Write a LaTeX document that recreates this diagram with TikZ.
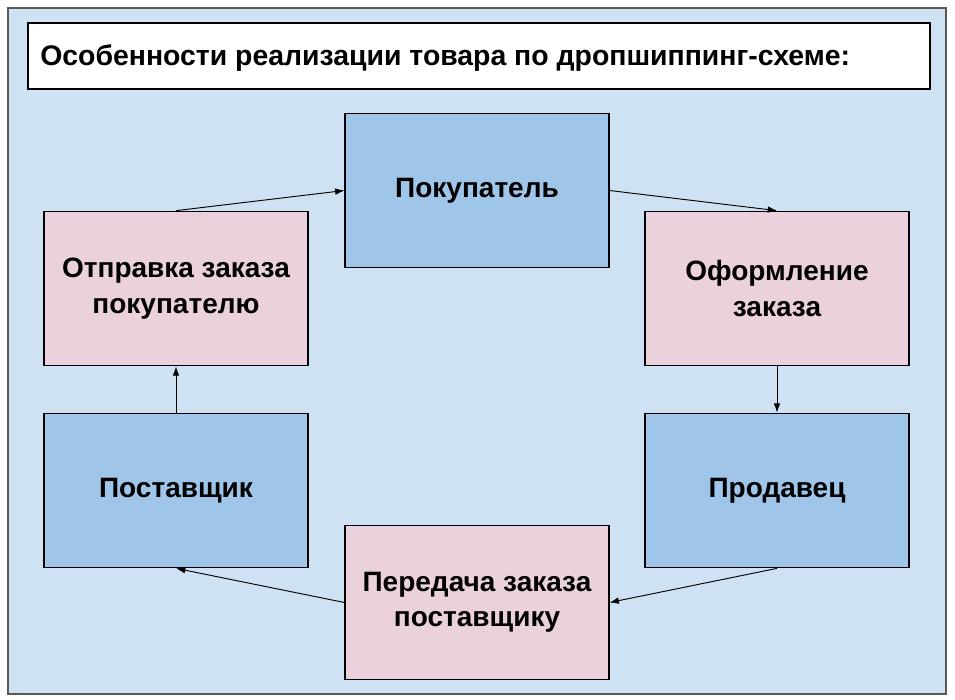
\documentclass[tikz,border=0pt]{standalone}
\usepackage{fontspec}
\setmainfont{Liberation Sans}
\usetikzlibrary{arrows.meta}
\definecolor{bgblue}{HTML}{CFE2F3}
\definecolor{boxblue}{HTML}{9FC5E8}
\definecolor{boxpink}{HTML}{EAD1DC}
\tikzset{
  stage/.style={draw=black, line width=0.8pt, minimum width=198pt, minimum height=116pt,
    align=center, inner sep=0pt, font=\bfseries\fontsize{21}{26.5}\selectfont},
  role/.style={stage, fill=boxblue},
  action/.style={stage, fill=boxpink},
  flow/.style={-{Latex[length=7pt,width=5pt]}, line width=0.7pt}
}
\begin{document}
\begin{tikzpicture}[x=0.75pt, y=-0.75pt]
  \useasboundingbox (0,0) rectangle (955,699);
  \draw[fill=bgblue, draw=black!65, line width=1pt] (8,8) rectangle (946,694);
  \draw[fill=white, draw=black, line width=0.8pt] (28,23) rectangle (930,89);
  \node[anchor=west, inner sep=0pt, font=\bfseries\fontsize{21.3}{25}\selectfont] (title) at (40,58)
    {Особенности реализации товара по дропшиппинг-схеме:};
  \draw
    (477,190.5) node[role] (buyer){Покупатель}
    (777,288.5) node[action] (order){Оформление\\заказа}
    (777,490.5) node[role] (seller){Продавец}
    (477,602.5) node[action] (transfer){Передача заказа\\поставщику}
    (176,490.5) node[role] (supplier){Поставщик}
    (176,288.5) node[action] (shipping){Отправка заказа\\покупателю};
  \begin{scope}[flow]
    \draw (shipping.north) to (buyer.west);
    \draw (buyer.east) to (order.north);
    \draw (order.south) to (seller.north);
    \draw (seller.south) to (transfer.east);
    \draw (transfer.west) to (supplier.south);
    \draw (supplier.north) to (shipping.south);
  \end{scope}
\end{tikzpicture}
\end{document}
